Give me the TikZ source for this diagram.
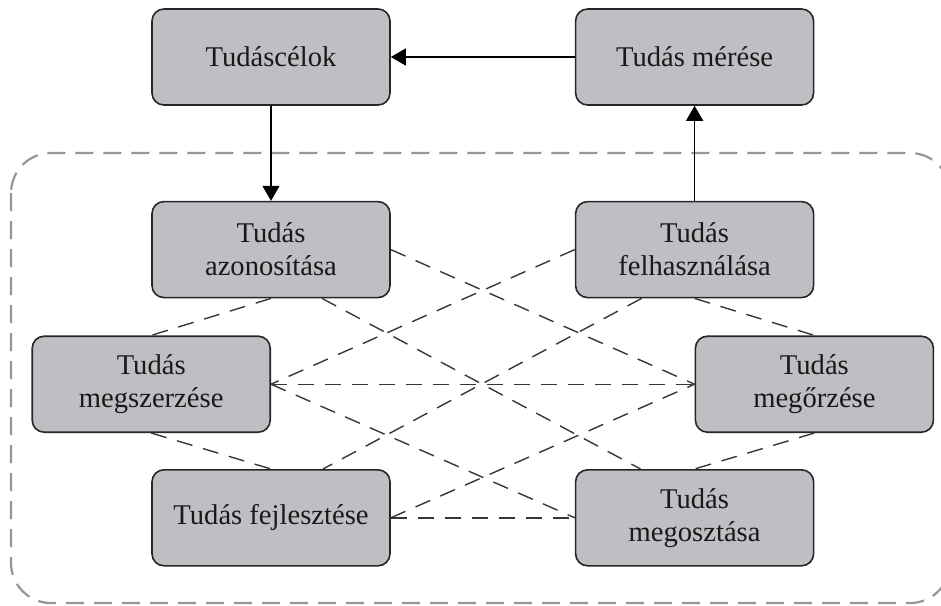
\documentclass[tikz,border=0pt]{standalone}
\usepackage{fontspec}
\setmainfont{Liberation Serif}
\usetikzlibrary{positioning,arrows.meta}
\definecolor{boxGray}{RGB}{190,191,195}
\definecolor{frameGray}{RGB}{150,150,150}
\definecolor{linkGray}{RGB}{55,55,55}

\begin{document}
\begin{tikzpicture}[
    x=0.5pt, y=-0.5pt,
    align=center,
    block/.style = {rectangle, draw=black!85, line width=0.8pt, fill=boxGray, rounded corners=6pt, minimum width=119pt, minimum height=48pt, inner sep=2pt, font=\fontsize{14.3}{16.5}\selectfont, text=black!90},
    arrow/.style = {-{Triangle[length=7.5pt,width=8.5pt]}, line width=0.7pt},
    link/.style = {draw=linkGray, line width=0.7pt, dash pattern=on 8pt off 5.5pt},
    frame/.style = {draw=frameGray, line width=1.1pt, dash pattern=on 9pt off 5pt, rounded corners=20pt}
]
    \useasboundingbox (0,0) rectangle (941,605);
    \clip (0,0) rectangle (941,605);

    % Goals and measurement
    \node [block] (celok) at (271,57) {Tudáscélok};
    \node [block, right=92pt of celok] (meres) {Tudás mérése};

    % Knowledge cycle
    \node [block, below=47.5pt of celok] (azon) {Tudás\\azonosítása};
    \node [block, below=47.5pt of meres] (felh) {Tudás\\felhasználása};
    \node [block, below=18.5pt of azon.south west] (megsz) {Tudás\\megszerzése};
    \node [block, below=18.5pt of felh.south east] (megorz) {Tudás\\megőrzése};
    \node [block, below=18pt of megsz.south east] (fejl) {Tudás fejlesztése};
    \node [block, below=18pt of megorz.south west] (megoszt) {Tudás\\megosztása};

    % Frame
    \draw [frame] (11,153) rectangle (950,603);

    % Connections
    \draw [arrow] (meres) -- (celok);
    \draw [arrow] (celok) -- (azon);
    \draw [arrow] (felh) -- (meres);

    \draw [link] (azon.south) -- (megsz.north);
    \draw [link] ([xshift=25.5pt]azon.south) -- ([xshift=-27pt]megoszt.north);
    \draw [link] (azon.east) -- (megorz.west);
    \draw [link] (felh.west) -- (megsz.east);
    \draw [link] ([xshift=-26.5pt]felh.south) -- ([xshift=26pt]fejl.north);
    \draw [link] (felh.south) -- (megorz.north);
    \draw [link] (megsz.east) -- (megorz.west);
    \draw [link] (megsz.east) -- (megoszt.west);
    \draw [link] (megsz.south) -- (fejl.north);
    \draw [link] (fejl.east) -- (megoszt.west);
    \draw [link] (fejl.east) -- (megorz.west);
    \draw [link] (megorz.south) -- (megoszt.north);
\end{tikzpicture}
\end{document}
